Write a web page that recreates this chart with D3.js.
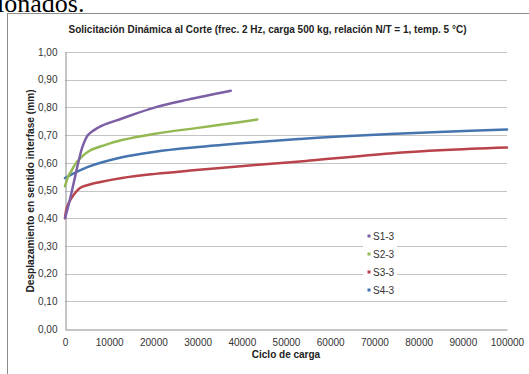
<!DOCTYPE html>
<html>
<head>
<meta charset="utf-8">
<script src="https://cdn.jsdelivr.net/npm/d3@7"></script>
<style>
  body { margin: 0; background: #fff; overflow: hidden; }
  svg { display: block; }
</style>
</head>
<body>
<div id="chart"></div>
<script>
// datos (ciclos, desplazamiento mm)
const seriesNames = ['S1-3', 'S2-3', 'S3-3', 'S4-3'];
const seriesColors = ['#7D5FA6', '#94B852', '#B9434A', '#4574AE'];

const s1Ciclos = [0, 1000, 2000, 3000, 4000, 5200, 6500, 8500, 12900, 20400, 27800, 37500];
const s1Valores = [0.40, 0.46, 0.53, 0.60, 0.66, 0.70, 0.717, 0.735, 0.76, 0.80, 0.828, 0.86];

const s2Ciclos = [0, 700, 1500, 2300, 5200, 9000, 12900, 20400, 30500, 35500, 43500];
const s2Valores = [0.515, 0.55, 0.572, 0.595, 0.64, 0.664, 0.682, 0.705, 0.727, 0.738, 0.756];

const s3Ciclos = [0, 450, 1600, 3400, 5200, 12900, 20400, 29000, 43000, 53200, 73500, 86000, 100000];
const s3Valores = [0.40, 0.44, 0.476, 0.509, 0.52, 0.545, 0.560, 0.573, 0.592, 0.605, 0.634, 0.646, 0.655];

const s4Ciclos = [0, 5200, 12900, 20400, 29000, 43000, 53200, 62000, 73500, 86000, 100000];
const s4Valores = [0.545, 0.585, 0.62, 0.64, 0.655, 0.674, 0.686, 0.695, 0.704, 0.712, 0.72];

const xTicks = [0, 10000, 20000, 30000, 40000, 50000, 60000, 70000, 80000, 90000, 100000];
const yTicks = [0, 0.1, 0.2, 0.3, 0.4, 0.5, 0.6, 0.7, 0.8, 0.9, 1.0];

const width = 529;
const height = 374;
const margin = { left: 65, right: 22, top: 52, bottom: 45 };

const svg = d3.select('#chart')
  .append('svg')
  .attr('width', width)
  .attr('height', height);

// fragmento de texto del documento arriba (cortado como en la imagen)
svg.append('text')
  .attr('x', -3)
  .attr('y', 12)
  .style('font-family', '"Liberation Serif", "Times New Roman", serif')
  .style('font-size', '26px')
  .style('fill', '#000')
  .text('ionados.');

// marco del grafico
svg.append('rect')
  .attr('x', 7.5)
  .attr('y', 13.5)
  .attr('width', 530)
  .attr('height', 370)
  .attr('fill', '#fff')
  .attr('stroke', '#8c8c8c');

const x = d3.scaleLinear()
  .domain([0, 100000])
  .range([margin.left, width - margin.right]);

const y = d3.scaleLinear()
  .domain([0, 1])
  .range([height - margin.bottom, margin.top]);

// lineas de grilla
svg.append('g')
  .selectAll('line')
  .data(yTicks.slice(1))
  .enter().append('line')
  .attr('x1', x(0))
  .attr('x2', x(100000))
  .attr('y1', d => Math.round(y(d)) + 0.5)
  .attr('y2', d => Math.round(y(d)) + 0.5)
  .attr('stroke', '#c4c4c4')
  .attr('stroke-width', 1);

// eje Y
const yAxis = svg.append('g')
  .attr('transform', `translate(${x(0) + 0.5},0)`)
  .call(d3.axisLeft(y).tickValues(yTicks).tickSize(0).tickPadding(8)
    .tickFormat(d => d3.format('.2f')(d).replace('.', ',')));
yAxis.select('.domain').attr('stroke', '#8c8c8c');
yAxis.selectAll('text')
  .style('font-family', '"Liberation Sans", Arial, sans-serif')
  .style('font-size', '10px')
  .style('fill', '#333');

// eje X
const xAxis = svg.append('g')
  .attr('transform', `translate(0,${Math.round(y(0)) + 0.5})`)
  .call(d3.axisBottom(x).tickValues(xTicks).tickSize(0).tickPadding(9)
    .tickFormat(d3.format('d')));
xAxis.select('.domain').attr('stroke', '#8c8c8c');
xAxis.selectAll('text')
  .style('font-family', '"Liberation Sans", Arial, sans-serif')
  .style('font-size', '10px')
  .style('fill', '#333');

// titulos
svg.append('text')
  .attr('x', 267.5)
  .attr('y', 33)
  .attr('text-anchor', 'middle')
  .attr('textLength', 398)
  .attr('lengthAdjust', 'spacingAndGlyphs')
  .style('font-family', '"Liberation Sans", Arial, sans-serif')
  .style('font-size', '10px')
  .style('font-weight', 'bold')
  .style('fill', '#222')
  .text('Solicitación Dinámica al Corte (frec. 2 Hz, carga 500 kg, relación N/T = 1, temp.  5 °C)');

svg.append('text')
  .attr('x', (x(0) + x(100000)) / 2)
  .attr('y', 358)
  .attr('text-anchor', 'middle')
  .style('font-family', '"Liberation Sans", Arial, sans-serif')
  .style('font-size', '10px')
  .style('font-weight', 'bold')
  .style('fill', '#222')
  .text('Ciclo de carga');

svg.append('text')
  .attr('transform', `translate(34,${191}) rotate(-90)`)
  .attr('text-anchor', 'middle')
  .attr('textLength', 203)
  .attr('lengthAdjust', 'spacingAndGlyphs')
  .style('font-family', '"Liberation Sans", Arial, sans-serif')
  .style('font-size', '10px')
  .style('font-weight', 'bold')
  .style('fill', '#222')
  .text('Desplazamiento en sentido interfase (mm)');

// series
const series = [
  { name: seriesNames[0], ciclos: s1Ciclos, valores: s1Valores },
  { name: seriesNames[1], ciclos: s2Ciclos, valores: s2Valores },
  { name: seriesNames[2], ciclos: s3Ciclos, valores: s3Valores },
  { name: seriesNames[3], ciclos: s4Ciclos, valores: s4Valores }
];

const line = d3.line()
  .x(d => x(d[0]))
  .y(d => y(d[1]))
  .curve(d3.curveCatmullRom.alpha(0.5));

// leyenda (fondo blanco sobre la grilla)
const legX = 363;
const legY = 227;
svg.append('rect')
  .attr('x', legX)
  .attr('y', legY)
  .attr('width', 34)
  .attr('height', 72)
  .attr('fill', '#fff');

// orden de dibujo: S4, S3, S2, S1 arriba
[3, 2, 1, 0].forEach(i => {
  const s = series[i];
  svg.append('path')
    .datum(s.ciclos.map((c, j) => [c, s.valores[j]]))
    .attr('d', line)
    .attr('fill', 'none')
    .attr('stroke', seriesColors[i])
    .attr('stroke-width', 2.5)
    .attr('stroke-linecap', 'round');
});

const leg = svg.append('g')
  .selectAll('g')
  .data(series)
  .enter().append('g')
  .attr('transform', (d, i) => `translate(${legX + 6},${legY + 9 + i * 18})`);

leg.append('rect')
  .attr('x', -1.5)
  .attr('y', -1.5)
  .attr('width', 3)
  .attr('height', 3)
  .attr('fill', (d, i) => seriesColors[i]);

leg.append('text')
  .attr('x', 4)
  .attr('dy', '0.35em')
  .style('font-family', '"Liberation Sans", Arial, sans-serif')
  .style('font-size', '10px')
  .style('fill', '#333')
  .text(d => d.name);
</script>
</body>
</html>
